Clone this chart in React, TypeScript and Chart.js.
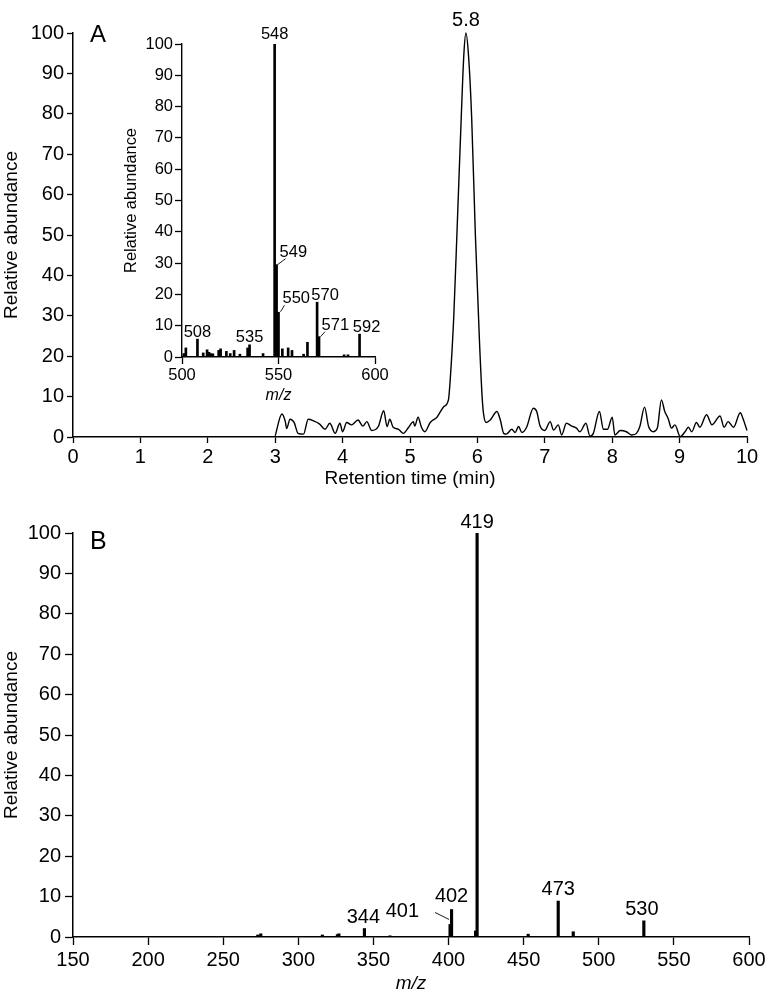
import React, { useEffect, useRef } from "react";
import { Chart, registerables } from "chart.js";

Chart.register(...registerables);

const FONT = "'Liberation Sans', Arial, Helvetica, sans-serif";

// ---------- Panel A: chromatogram ----------
const retentionTime = [
  3.0, 3.1, 3.15, 3.17, 3.22, 3.28, 3.34, 3.42, 3.49, 3.57, 3.66, 3.74, 3.81, 3.89, 3.96, 4.0,
  4.06, 4.13, 4.23, 4.3, 4.36, 4.43, 4.53, 4.61, 4.66, 4.7, 4.75, 4.83, 4.9, 4.98, 5.05, 5.07,
  5.12, 5.17, 5.22, 5.3, 5.4, 5.5, 5.57, 5.6, 5.65, 5.7, 5.76, 5.8, 5.83, 5.87, 5.915, 5.97,
  6.03, 6.07, 6.09, 6.13, 6.19, 6.29, 6.34, 6.39, 6.43, 6.51, 6.56, 6.61, 6.66, 6.73, 6.83, 6.88,
  6.93, 7.0, 7.08, 7.13, 7.2, 7.25, 7.32, 7.4, 7.47, 7.52, 7.61, 7.67, 7.72, 7.81, 7.87, 7.93,
  8.0, 8.04, 8.12, 8.21, 8.29, 8.36, 8.41, 8.48, 8.54, 8.61, 8.67, 8.73, 8.78, 8.83, 8.88, 8.93,
  9.01, 9.08, 9.13, 9.18, 9.25, 9.3, 9.4, 9.48, 9.6, 9.66, 9.72, 9.8, 9.9, 9.94, 10.0,
];
const chromAbundance = [
  0.3, 5.7, 3.8, 2.1, 4.4, 3.6, 0.9, 0.7, 4.4, 4.0, 3.2, 1.9, 3.4, 0.9, 3.4, 1.3,
  3.6, 3.0, 4.2, 2.7, 3.8, 1.6, 2.6, 6.5, 2.6, 4.4, 2.4, 1.9, 0.9, 2.4, 3.8, 2.7,
  4.9, 2.4, 1.3, 3.6, 4.9, 7.5, 9.2, 15, 30, 52, 79, 95, 100, 94, 79, 50,
  24, 10, 5.9, 3.6, 4.2, 6.3, 4.2, 0.9, 0.7, 1.9, 1.1, 2.6, 1.1, 2.4, 7.1, 6.3,
  2.7, 1.6, 3.8, 1.7, 3.0, 0.5, 3.4, 2.7, 2.2, 1.3, 3.4, 0.2, 0.9, 6.3, 1.9, 1.9,
  4.9, 0.5, 1.6, 1.3, 0.5, 0.9, 2.6, 7.4, 2.6, 1.3, 2.2, 9.2, 6.3, 4.6, 2.2, 3.0,
  0.1, 1.3, 2.4, 1.3, 3.6, 2.4, 5.5, 3.0, 5.2, 2.4, 3.8, 2.4, 6.0, 4.6, 1.6,
];
const timeTicks = [0, 1, 2, 3, 4, 5, 6, 7, 8, 9, 10];
const abundanceTicks = [0, 10, 20, 30, 40, 50, 60, 70, 80, 90, 100];

// ---------- Inset: full-scan spectrum ----------
const insetMz = [
  501, 502, 508, 511, 513, 514, 515, 516, 519, 520, 523, 525, 527, 530, 534, 535, 542,
  548, 549, 550, 552, 555, 557, 563, 565, 570, 571, 584, 586, 592,
];
const insetAbundance = [
  1.1, 2.9, 5.7, 1.3, 2.3, 1.5, 1.1, 1.0, 2.1, 2.6, 1.8, 1.1, 2.1, 0.9, 2.9, 3.9, 1.1,
  100, 29.5, 14.3, 2.6, 2.9, 2.1, 0.9, 4.7, 17.5, 6.5, 0.7, 0.7, 7.3,
];
const insetMzTicks = [500, 550, 600];
const insetLabels = ["508", "535", "548", "549", "550", "570", "571", "592"];

// ---------- Panel B: product-ion spectrum ----------
const msmsMz = [273, 275, 316, 326, 327, 344, 361, 401, 402, 418, 419, 453, 473, 483, 530];
const msmsAbundance = [0.5, 0.8, 0.5, 0.6, 0.8, 2.1, 0.3, 3.1, 6.8, 1.5, 100, 0.7, 8.9, 1.3, 4.0];
const msmsMzTicks = [150, 200, 250, 300, 350, 400, 450, 500, 550, 600];
const msmsLabels = ["344", "401", "402", "419", "473", "530"];

// ---------- label styles (pixel offsets from bar tops) ----------
type LabelStyle = { dx: number; dy: number; align: CanvasTextAlign; leader?: [number, number, number, number] };
const insetLabelStyle: Record<string, LabelStyle> = {
  "508": { dx: 0, dy: -2, align: "center" },
  "535": { dx: 0, dy: -2.5, align: "center" },
  "548": { dx: 0, dy: -5, align: "center" },
  "549": { dx: 3, dy: -8, align: "left", leader: [1, 0, 9, -6] },
  "550": { dx: 4, dy: -9, align: "left", leader: [2, -0.5, 6, -7] },
  "570": { dx: 8, dy: -2, align: "center" },
  "571": { dx: 2.5, dy: -6.5, align: "left", leader: [1.5, 0, 6, -5] },
  "592": { dx: 7, dy: -2, align: "center" },
};
const msmsLabelStyle: Record<string, LabelStyle> = {
  "344": { dx: -1, dy: -6, align: "center" },
  "401": { dx: -31, dy: -7, align: "right", leader: [-15, -12, -1, -5] },
  "402": { dx: 0, dy: -8, align: "center" },
  "419": { dx: 0, dy: -5, align: "center" },
  "473": { dx: 0, dy: -6, align: "center" },
  "530": { dx: -2, dy: -6, align: "center" },
};

const setTicks = (vals: number[]) => (scale: any) => {
  scale.ticks = vals.map((v) => ({ value: v }));
};

function axisStyle(opts: {
  ticks: number[];
  min: number;
  max: number;
  fixed: number;
  horizontal: boolean;
  tickLength: number;
  tickFont: number;
  tickPad: number;
  title: string;
  titleFont: number;
  titleItalic?: boolean;
  titlePad: { top: number; bottom: number };
  borderWidth: number;
}) {
  return {
    type: "linear",
    min: opts.min,
    max: opts.max,
    offset: false,
    afterBuildTicks: setTicks(opts.ticks),
    afterFit: (s: any) => {
      if (opts.horizontal) s.height = opts.fixed;
      else s.width = opts.fixed;
    },
    grid: {
      display: true,
      drawOnChartArea: false,
      drawTicks: true,
      offset: false,
      tickLength: opts.tickLength,
      tickColor: "#000",
      tickWidth: 1.3,
    },
    border: { display: true, color: "#000", width: opts.borderWidth },
    ticks: {
      color: "#000",
      font: { family: FONT, size: opts.tickFont },
      padding: opts.tickPad,
      maxRotation: 0,
      autoSkip: false,
    },
    title: {
      display: true,
      text: opts.title,
      color: "#000",
      font: { family: FONT, size: opts.titleFont, style: opts.titleItalic ? "italic" : "normal" },
      padding: opts.titlePad,
    },
  };
}

function drawBarLabels(
  chart: any,
  labels: string[],
  mz: number[],
  ab: number[],
  styles: Record<string, LabelStyle>,
  fontSize: number
) {
  const ctx = chart.ctx;
  const xs = chart.scales.x;
  const ys = chart.scales.y;
  ctx.save();
  ctx.font = `${fontSize}px ${FONT}`;
  ctx.fillStyle = "#000";
  ctx.strokeStyle = "#000";
  ctx.textBaseline = "alphabetic";
  labels.forEach((t) => {
    const idx = mz.indexOf(Number(t));
    if (idx < 0) return;
    const px = xs.getPixelForValue(mz[idx]);
    const py = ys.getPixelForValue(ab[idx]);
    const st = styles[t];
    ctx.textAlign = st.align;
    ctx.fillText(t, px + st.dx, py + st.dy);
    if (st.leader) {
      const l = st.leader;
      ctx.beginPath();
      ctx.lineWidth = 0.9;
      ctx.moveTo(px + l[0], py + l[1]);
      ctx.lineTo(px + l[2], py + l[3]);
      ctx.stroke();
    }
  });
  ctx.restore();
}

function drawPanelLetter(chart: any, letter: string, dx: number, dy: number, size: number) {
  const ctx = chart.ctx;
  const ca = chart.chartArea;
  ctx.save();
  ctx.font = `${size}px ${FONT}`;
  ctx.fillStyle = "#000";
  ctx.textAlign = "left";
  ctx.textBaseline = "alphabetic";
  ctx.fillText(letter, ca.left + dx, ca.top + dy);
  ctx.restore();
}

export default function App() {
  const aRef = useRef<HTMLCanvasElement>(null);
  const insetRef = useRef<HTMLCanvasElement>(null);
  const bRef = useRef<HTMLCanvasElement>(null);

  useEffect(() => {
    const charts: Chart[] = [];

    // Panel A
    const peakIdx = chromAbundance.indexOf(Math.max(...chromAbundance));
    charts.push(
      new Chart(aRef.current as HTMLCanvasElement, {
        type: "line",
        data: {
          datasets: [
            {
              data: retentionTime.map((t, i) => ({ x: t, y: chromAbundance[i] })),
              borderColor: "#000",
              borderWidth: 1.4,
              pointRadius: 0,
              fill: false,
              cubicInterpolationMode: "monotone",
              clip: false,
            } as any,
          ],
        },
        options: {
          responsive: false,
          animation: false,
          events: [],
          layout: { padding: { top: 33, right: 24, left: 0, bottom: 0 } },
          plugins: { legend: { display: false }, tooltip: { enabled: false } },
          scales: {
            x: axisStyle({
              ticks: timeTicks, min: 0, max: 10, fixed: 53, horizontal: true, tickLength: 6,
              tickFont: 20, tickPad: 2, title: "Retention time (min)", titleFont: 19,
              titlePad: { top: 0, bottom: 0 }, borderWidth: 1.5,
            }) as any,
            y: axisStyle({
              ticks: abundanceTicks, min: 0, max: 100, fixed: 73, horizontal: false, tickLength: 6,
              tickFont: 20, tickPad: 3, title: "Relative abundance", titleFont: 19,
              titlePad: { top: 0, bottom: 0 }, borderWidth: 1.5,
            }) as any,
          },
        },
        plugins: [
          {
            id: "annotA",
            afterDraw(chart: any) {
              const ctx = chart.ctx;
              const px = chart.scales.x.getPixelForValue(retentionTime[peakIdx]);
              const py = chart.scales.y.getPixelForValue(chromAbundance[peakIdx]);
              ctx.save();
              ctx.font = `20px ${FONT}`;
              ctx.fillStyle = "#000";
              ctx.textAlign = "center";
              ctx.textBaseline = "alphabetic";
              ctx.fillText(retentionTime[peakIdx].toFixed(1), px, py - 7);
              ctx.restore();
              drawPanelLetter(chart, "A", 17, 9, 24);
            },
          },
        ],
      })
    );

    // Inset
    charts.push(
      new Chart(insetRef.current as HTMLCanvasElement, {
        type: "bar",
        data: {
          datasets: [
            {
              data: insetMz.map((m, i) => ({ x: m, y: insetAbundance[i] })),
              backgroundColor: "#000",
              borderWidth: 0,
              barThickness: 2,
            } as any,
          ],
        },
        options: {
          responsive: false,
          animation: false,
          events: [],
          layout: { padding: { top: 44, right: 20, left: 20, bottom: 0 } },
          plugins: { legend: { display: false }, tooltip: { enabled: false } },
          scales: {
            x: axisStyle({
              ticks: insetMzTicks, min: 500, max: 600, fixed: 53, horizontal: true, tickLength: 7,
              tickFont: 16.5, tickPad: 2, title: "m/z", titleFont: 16, titleItalic: true,
              titlePad: { top: 0, bottom: 5 }, borderWidth: 1.4,
            }) as any,
            y: axisStyle({
              ticks: abundanceTicks, min: 0, max: 100, fixed: 62, horizontal: false, tickLength: 7,
              tickFont: 16.5, tickPad: 2, title: "Relative abundance", titleFont: 16.4,
              titlePad: { top: 2, bottom: 0 }, borderWidth: 1.4,
            }) as any,
          },
        },
        plugins: [
          {
            id: "annotInset",
            afterDraw(chart: any) {
              drawBarLabels(chart, insetLabels, insetMz, insetAbundance, insetLabelStyle, 16.5);
            },
          },
        ],
      })
    );

    // Panel B
    charts.push(
      new Chart(bRef.current as HTMLCanvasElement, {
        type: "bar",
        data: {
          datasets: [
            {
              data: msmsMz.map((m, i) => ({ x: m, y: msmsAbundance[i] })),
              backgroundColor: "#000",
              borderWidth: 0,
              barThickness: 2.5,
            } as any,
          ],
        },
        options: {
          responsive: false,
          animation: false,
          events: [],
          layout: { padding: { top: 38, right: 22, left: 0, bottom: 0 } },
          plugins: { legend: { display: false }, tooltip: { enabled: false } },
          scales: {
            x: axisStyle({
              ticks: msmsMzTicks, min: 150, max: 600, fixed: 58, horizontal: true, tickLength: 8,
              tickFont: 20, tickPad: 3, title: "m/z", titleFont: 19, titleItalic: true,
              titlePad: { top: 0, bottom: 0 }, borderWidth: 1.5,
            }) as any,
            y: axisStyle({
              ticks: abundanceTicks, min: 0, max: 100, fixed: 73, horizontal: false, tickLength: 8,
              tickFont: 20, tickPad: 4, title: "Relative abundance", titleFont: 19,
              titlePad: { top: 0, bottom: 0 }, borderWidth: 1.5,
            }) as any,
          },
        },
        plugins: [
          {
            id: "annotB",
            afterDraw(chart: any) {
              drawBarLabels(chart, msmsLabels, msmsMz, msmsAbundance, msmsLabelStyle, 20);
              drawPanelLetter(chart, "B", 17, 16, 25);
            },
          },
        ],
      })
    );

    return () => charts.forEach((c) => c.destroy());
  }, []);

  return (
    <div style={{ position: "absolute", left: 0, top: 0, width: 771, height: 995, background: "#fff" }}>
      <canvas ref={aRef} width={771} height={490} style={{ position: "absolute", left: 0, top: 0, width: 771, height: 490 }} />
      <canvas ref={bRef} width={771} height={500} style={{ position: "absolute", left: 0, top: 495, width: 771, height: 500 }} />
      <canvas ref={insetRef} width={295} height={410} style={{ position: "absolute", left: 100, top: 0, width: 295, height: 410 }} />
    </div>
  );
}
